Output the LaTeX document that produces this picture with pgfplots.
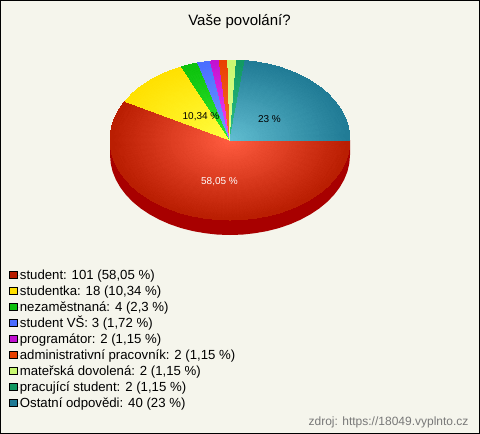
\documentclass[border=0pt]{standalone}
\usepackage{pgfplots}
\pgfplotsset{compat=1.18}
\usepackage{fontspec}
\setmainfont{Liberation Sans}
\definecolor{pagebg}{HTML}{F5F5EC}
\definecolor{sidered}{HTML}{A80000}
% rim (R) and centre (C) of every slice
\definecolor{redR}{HTML}{B81C00}\definecolor{redC}{HTML}{FF5C40}
\definecolor{yelR}{HTML}{FFE000}\definecolor{yelC}{HTML}{FFFF40}
\definecolor{grnR}{HTML}{0CC00C}\definecolor{grnC}{HTML}{30E830}
\definecolor{bluR}{HTML}{4A6CFF}\definecolor{bluC}{HTML}{70A0FF}
\definecolor{magR}{HTML}{C010D0}\definecolor{magC}{HTML}{F848F8}
\definecolor{oraR}{HTML}{E84000}\definecolor{oraC}{HTML}{FF7030}
\definecolor{limR}{HTML}{C8F870}\definecolor{limC}{HTML}{E0FF90}
\definecolor{dgrR}{HTML}{109860}\definecolor{dgrC}{HTML}{30C088}
\definecolor{teaR}{HTML}{1F7A94}\definecolor{teaC}{HTML}{60BCD0}
\definecolor{srcgray}{HTML}{787878}
\pgfplotsset{
    slice/.style={patch,shader=interp,mesh/color input=explicit,forget plot},
}
\begin{document}
\begin{tikzpicture}
\begin{axis}[
    scale only axis,
    width=479pt, height=433pt,
    xmin=0.5, xmax=479.5, ymin=0.5, ymax=433.5,
    y dir=reverse,
    xtick=\empty, ytick=\empty,
    axis line style={line width=1pt,black},
    axis background/.style={fill=pagebg},
    clip=false,
    legend style={at={(axis cs:6,265)},anchor=north west,draw=none,fill=none,
        font=\fontsize{13.2}{15}\selectfont,
        row sep=0pt,
        nodes={inner sep=0pt,text height=12pt,text depth=4pt}},
    legend cell align=left,
    legend image code/.code={\path[draw=none] (0pt,0pt) -- (10.7pt,0pt);\draw[#1,draw=black,line width=.7pt] (0.35pt,-3.6pt) rectangle (7.7pt,3.6pt);},
]
% side of the pie
\addplot[fill=sidered,draw=none,forget plot] coordinates {
(350,140) (350,155) (349.3,163.4) (347.4,171.6) (344.1,179.7) (339.6,187.5) (333.9,195) (327.1,202)
(319.2,208.5) (310.3,214.4) (300.5,219.7) (290,224.3) (278.8,228.1) (267.1,231.1) (254.9,233.2)
(242.5,234.6) (230,235) (217.5,234.6) (205.1,233.2) (192.9,231.1) (181.2,228.1) (170,224.3)
(159.5,219.7) (149.7,214.4) (140.8,208.5) (132.9,202) (126.1,195) (120.4,187.5) (115.9,179.7)
(112.6,171.6) (110.7,163.4) (110,155) (110,140) (350,140)};
% student
\addplot[slice,patch table={0 1 2\\0 2 3\\0 3 4\\0 4 5\\0 5 6\\0 6 7\\0 7 8\\0 8 9\\0 9 10\\0 10 11\\0 11 12\\0 12 13\\0 13 14\\0 14 15\\0 15 16\\0 16 17\\0 17 18\\0 18 19\\0 19 20\\0 20 21\\0 21 22\\0 22 23\\0 23 24\\0 24 25\\0 25 26\\0 26 27\\0 27 28\\0 28 29\\0 29 30\\0 30 31\\0 31 32\\0 32 33\\0 33 34\\0 34 35\\0 35 36\\}]
table[meta=c,row sep=\\] {
x y c\\
230 140 color=redC\\
350 140 color=redR\\
349.3 148.4 color=redR\\
347.4 156.6 color=redR\\
344.1 164.7 color=redR\\
339.6 172.5 color=redR\\
333.9 180 color=redR\\
327.1 187 color=redR\\
319.2 193.5 color=redR\\
310.3 199.4 color=redR\\
300.5 204.7 color=redR\\
290 209.3 color=redR\\
278.8 213.1 color=redR\\
267.1 216.1 color=redR\\
254.9 218.2 color=redR\\
242.5 219.6 color=redR\\
230 220 color=redR\\
217.5 219.6 color=redR\\
205.1 218.2 color=redR\\
192.9 216.1 color=redR\\
181.2 213.1 color=redR\\
170 209.3 color=redR\\
159.5 204.7 color=redR\\
149.7 199.4 color=redR\\
140.8 193.5 color=redR\\
132.9 187 color=redR\\
126.1 180 color=redR\\
120.4 172.5 color=redR\\
115.9 164.7 color=redR\\
112.6 156.6 color=redR\\
110.7 148.4 color=redR\\
110 140 color=redR\\
110.7 131.6 color=redR\\
112.6 123.4 color=redR\\
115.9 115.3 color=redR\\
120.4 107.5 color=redR\\
125 101.3 color=redR\\
};
% studentka
\addplot[slice,patch table={0 1 2\\0 2 3\\0 3 4\\0 4 5\\0 5 6\\0 6 7\\}]
table[meta=c,row sep=\\] {
x y c\\
230 140 color=yelC\\
125 101.3 color=yelR\\
132.9 93 color=yelR\\
140.8 86.5 color=yelR\\
149.7 80.6 color=yelR\\
159.5 75.3 color=yelR\\
170 70.7 color=yelR\\
181.6 66.8 color=yelR\\
};
% nezamestnana
\addplot[slice,patch table={0 1 2\\0 2 3\\}]
table[meta=c,row sep=\\] {
x y c\\
230 140 color=grnC\\
181.6 66.8 color=grnR\\
189 64.8 color=grnR\\
197.9 62.9 color=grnR\\
};
% student VS
\addplot[slice,patch table={0 1 2\\}]
table[meta=c,row sep=\\] {
x y c\\
230 140 color=bluC\\
197.9 62.9 color=bluR\\
210.5 61.1 color=bluR\\
};
% programator
\addplot[slice,patch table={0 1 2\\}]
table[meta=c,row sep=\\] {
x y c\\
230 140 color=magC\\
210.5 61.1 color=magR\\
219.1 60.3 color=magR\\
};
% administrativni pracovnik
\addplot[slice,patch table={0 1 2\\}]
table[meta=c,row sep=\\] {
x y c\\
230 140 color=oraC\\
219.1 60.3 color=oraR\\
227.8 60 color=oraR\\
};
% materska dovolena
\addplot[slice,patch table={0 1 2\\}]
table[meta=c,row sep=\\] {
x y c\\
230 140 color=limC\\
227.8 60 color=limR\\
236.5 60.1 color=limR\\
};
% pracujici student
\addplot[slice,patch table={0 1 2\\}]
table[meta=c,row sep=\\] {
x y c\\
230 140 color=dgrC\\
236.5 60.1 color=dgrR\\
245.1 60.6 color=dgrR\\
};
% ostatni odpovedi
\addplot[slice,patch table={0 1 2\\0 2 3\\0 3 4\\0 4 5\\0 5 6\\0 6 7\\0 7 8\\0 8 9\\0 9 10\\0 10 11\\0 11 12\\0 12 13\\0 13 14\\0 14 15\\}]
table[meta=c,row sep=\\] {
x y c\\
230 140 color=teaC\\
245.1 60.6 color=teaR\\
254.9 61.8 color=teaR\\
267.1 63.9 color=teaR\\
278.8 66.9 color=teaR\\
290 70.7 color=teaR\\
300.5 75.3 color=teaR\\
310.3 80.6 color=teaR\\
319.2 86.5 color=teaR\\
327.1 93 color=teaR\\
333.9 100 color=teaR\\
339.6 107.5 color=teaR\\
344.1 115.3 color=teaR\\
347.4 123.4 color=teaR\\
349.3 131.6 color=teaR\\
350 140 color=teaR\\
};
\addlegendimage{fill=redR}\addlegendentry{student: 101 (58,05 \%)}
\addlegendimage{fill=yelR}\addlegendentry{studentka: 18 (10,34 \%)}
\addlegendimage{fill=grnR}\addlegendentry{nezaměstnaná: 4 (2,3 \%)}
\addlegendimage{fill=bluR}\addlegendentry{student VŠ: 3 (1,72 \%)}
\addlegendimage{fill=magR}\addlegendentry{programátor: 2 (1,15 \%)}
\addlegendimage{fill=oraR}\addlegendentry{administrativní pracovník: 2 (1,15 \%)}
\addlegendimage{fill=limR}\addlegendentry{mateřská dovolená: 2 (1,15 \%)}
\addlegendimage{fill=dgrR}\addlegendentry{pracující student: 2 (1,15 \%)}
\addlegendimage{fill=teaR}\addlegendentry{Ostatní odpovědi: 40 (23 \%)}
\node[font=\fontsize{15}{17}\selectfont] at (axis cs:239.5,22) {Vaše povolání?};
\node[font=\fontsize{10}{12}\selectfont,white] at (axis cs:219.5,182) {58,05 \%};
\node[font=\fontsize{10}{12}\selectfont] at (axis cs:201,117) {10,34 \%};
\node[font=\fontsize{10}{12}\selectfont] at (axis cs:269.5,119) {23 \%};
\node[font=\fontsize{12}{14}\selectfont,text=srcgray,anchor=east] at (axis cs:472,422) {zdroj: https://18049.vyplnto.cz};
\end{axis}
\end{tikzpicture}
\end{document}
